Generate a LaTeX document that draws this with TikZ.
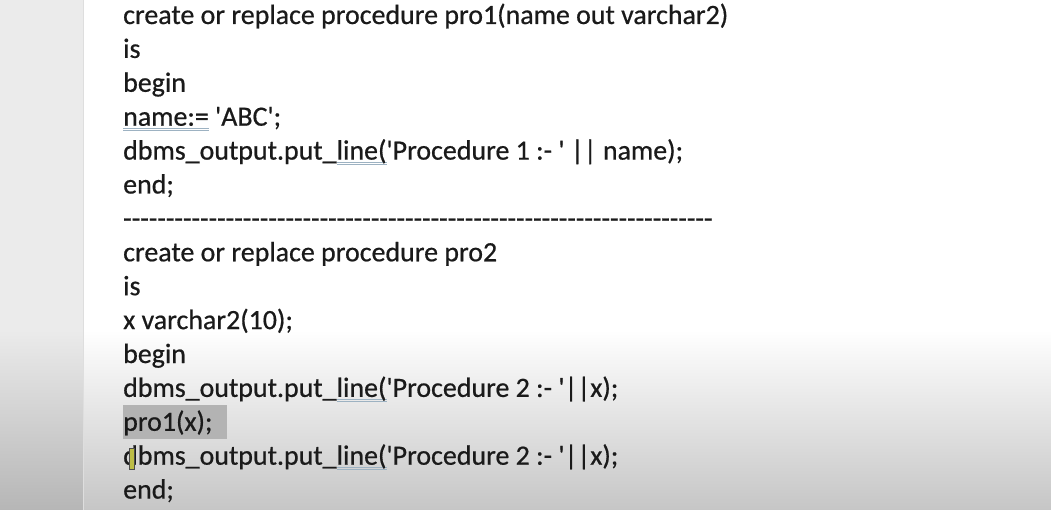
\documentclass[tikz,border=0pt]{standalone}
\usepackage{fontspec}
\setmainfont{Carlito}[Ligatures=TeXOff, FakeBold=0.6]
\definecolor{stripc}{HTML}{EBEBEB}
\definecolor{stripbot}{HTML}{B6B6B6}
\definecolor{edgec}{HTML}{DEDEDE}
\definecolor{pagebot}{HTML}{C6C6C6}
\definecolor{ulc}{HTML}{9DB2C2}
\definecolor{hlc}{HTML}{B3B3B3}
\definecolor{txt}{HTML}{1A1A1A}
\definecolor{curc}{HTML}{BDBD45}
\newsavebox\gbox
\newsavebox\measbox
\newlength\measlen
\newcommand\gl[1]{\sbox\gbox{#1}\rlap{\color{ulc}\rule[-3.2pt]{\wd\gbox}{0.9pt}}\rlap{\color{ulc}\rule[-5.4pt]{\wd\gbox}{0.9pt}}\usebox\gbox}
\newcommand\hlt[1]{\sbox\gbox{#1\hspace{15pt}}\rlap{\color{hlc}\rule[-8pt]{\wd\gbox}{34pt}}#1}
\ExplSyntaxOn
\NewDocumentCommand\hyph{m}{\prg_replicate:nn{#1}{-}}
\ExplSyntaxOff
\AtBeginDocument{%
\sbox\measbox{\fontsize{24pt}{24pt}\selectfont create or replace procedure pro1(name out varchar2)}%
\setlength\measlen{\wd\measbox}%
\pgfmathsetmacro\fs{24*605/\measlen}%
\sbox\measbox{\fontsize{\fs pt}{\fs pt}\selectfont -}%
\setlength\measlen{\wd\measbox}%
\pgfmathtruncatemacro\nh{587/\measlen+0.5}%
\global\let\fs\fs\global\let\nh\nh
}
\begin{document}
\begin{tikzpicture}[x=1pt,y=-1pt]
\tikzset{
  code/.style={anchor=base west, inner sep=0pt, text=txt, font={\fontsize{\fs pt}{\fs pt}\selectfont}},
}
\useasboundingbox (0,0) rectangle (1051,510);
% page and left strip
\fill[white] (0,0) rectangle (1051,510);
\shade[top color=white, bottom color=pagebot] (83,330) rectangle (1051,510);
\fill[stripc] (0,0) rectangle (83,330);
\shade[top color=stripc, bottom color=stripbot] (0,330) rectangle (83,510);
\draw[edgec, line width=0.8pt] (83,0) -- (83,510);
% code lines
\def\lh{33.9}
\node[code] (l1)  at (123,24) {create or replace procedure pro1(name out varchar2)};
\node[code] (l2)  at (123,{24+1*\lh}) {is};
\node[code] (l3)  at (123,{24+2*\lh}) {begin};
\node[code] (l4)  at (123,{24+3*\lh}) {\gl{name:=} 'ABC';};
\node[code] (l5)  at (123,{24+4*\lh}) {dbms\_output.put\_\gl{line(}'Procedure 1 :- ' || name);};
\node[code] (l6)  at (123,{24+5*\lh}) {end;};
\node[code] (l7)  at (123,{24+6*\lh}) {\hyph{\nh}};
\node[code] (l8)  at (123,{24+7*\lh}) {create or replace procedure pro2};
\node[code] (l9)  at (123,{24+8*\lh}) {is};
\node[code] (l10) at (123,{24+9*\lh}) {x varchar2(10);};
\node[code] (l11) at (123,{24+10*\lh}) {begin};
\node[code] (l12) at (123,{24+11*\lh}) {dbms\_output.put\_\gl{line(}'Procedure 2 :- '||x);};
\node[code] (l13) at (123,{24+12*\lh}) {\hlt{pro1(x);}};
\node[code] (l14) at (123,{24+13*\lh}) {dbms\_output.put\_\gl{line(}'Procedure 2 :- '||x);};
\node[code] (l15) at (123,{24+14*\lh}) {end;};
% text cursor
\draw[black!70, fill=curc, line width=0.6pt] (129,448) rectangle (134,469);
\end{tikzpicture}
\end{document}
